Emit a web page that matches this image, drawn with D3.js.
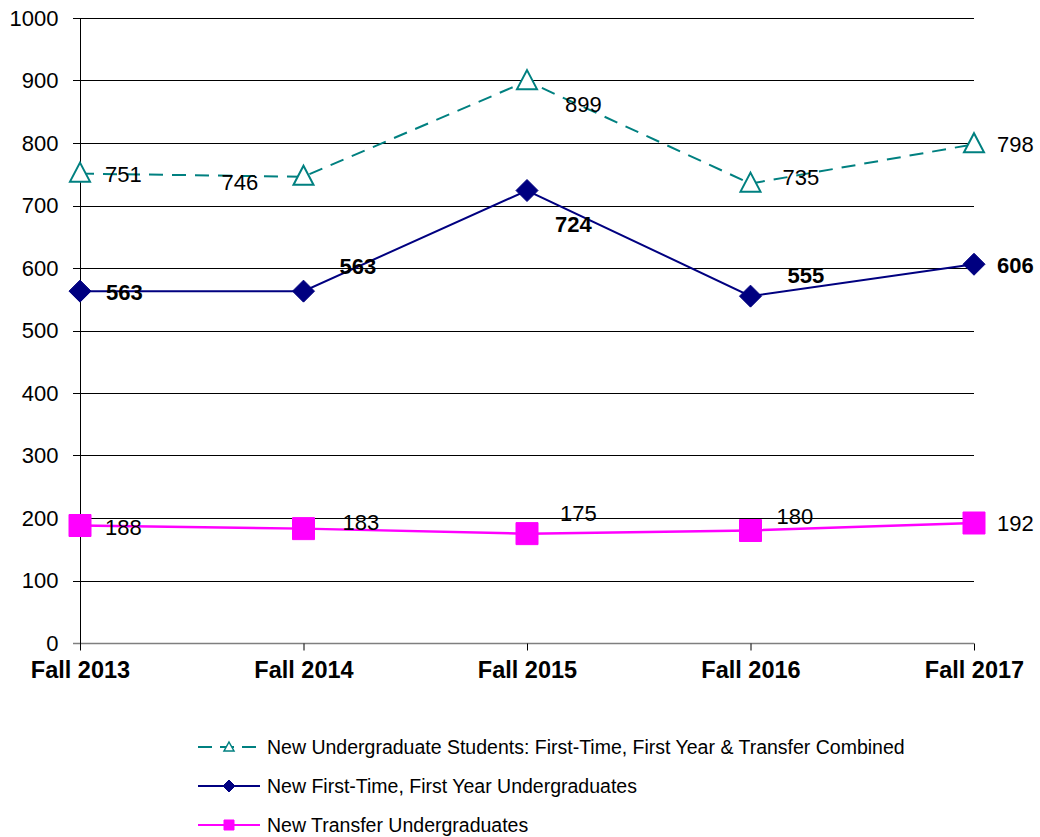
<!DOCTYPE html>
<html>
<head>
<meta charset="utf-8">
<script src="https://cdn.jsdelivr.net/npm/d3@7"></script>
<style>
  body { margin: 0; background: #fff; }
  svg { font-family: "Liberation Sans", Arial, sans-serif; }
</style>
</head>
<body>
<div id="chart"></div>
<script>
// chart data
const years = ["Fall 2013", "Fall 2014", "Fall 2015", "Fall 2016", "Fall 2017"]
const combined = [751, 746, 899, 735, 798]
const firstTime = [563, 563, 724, 555, 606]
const transfer = [188, 183, 175, 180, 192]
const yTicks = [0, 100, 200, 300, 400, 500, 600, 700, 800, 900, 1000]

// label offsets (dx, dy) relative to the point
const combinedLabelPos = [[25, 8], [-82, 13], [38, 31], [32, 1], [23, 8]]
const firstLabelPos = [[26, 9], [36, -17], [28, 41], [37, -13], [23, 9]]
const transferLabelPos = [[25, 9], [39, 1], [33, -13], [26, -7], [23, 8]]

const series = [
  {name: "New Undergraduate Students: First-Time, First Year & Transfer Combined",
   values: combined, color: "#008080", dash: "14,9", marker: "triangle", bold: false, labelPos: combinedLabelPos},
  {name: "New First-Time, First Year Undergraduates",
   values: firstTime, color: "#000080", dash: null, marker: "diamond", bold: true, labelPos: firstLabelPos},
  {name: "New Transfer Undergraduates",
   values: transfer, color: "#FF00FF", dash: null, marker: "square", bold: false, labelPos: transferLabelPos},
]

const W = 1040, H = 837
const margin = {top: 18, right: 66, bottom: 194, left: 80}

const svg = d3.select("#chart").append("svg")
  .attr("width", W)
  .attr("height", H)

const x = d3.scalePoint()
  .domain(years)
  .range([margin.left, W - margin.right])

const y = d3.scaleLinear()
  .domain([0, 1000])
  .range([H - margin.bottom, margin.top])

// gridlines
svg.append("g")
  .selectAll("line")
  .data(yTicks)
  .join("line")
    .attr("x1", margin.left - 7)
    .attr("x2", W - margin.right)
    .attr("y1", d => Math.round(y(d)) + 0.5)
    .attr("y2", d => Math.round(y(d)) + 0.5)
    .attr("stroke", d => d == 0 ? "#7f7f7f" : "#000")
    .attr("stroke-width", d => d == 0 ? 1.5 : 1)

// y axis
const yAxis = svg.append("g")
  .attr("transform", `translate(${margin.left + 0.5},0)`)
  .call(d3.axisLeft(y).tickValues(yTicks).tickFormat(d3.format("d")).tickSize(0).tickPadding(22))
yAxis.select(".domain").attr("stroke", "#000").attr("d", `M0,${margin.top}V${H - margin.bottom + 7}`)
yAxis.selectAll("text")
  .attr("font-size", 22)
  .attr("font-family", "Liberation Sans, Arial, sans-serif")
  .attr("fill", "#000")

// x axis
const xAxis = svg.append("g")
  .attr("transform", `translate(0,${Math.round(y(0)) + 0.5})`)
  .call(d3.axisBottom(x).tickSize(7).tickPadding(11).tickSizeOuter(0))
xAxis.select(".domain").remove()
xAxis.selectAll(".tick line").attr("stroke", "#000")
xAxis.selectAll("text")
  .attr("font-size", 23.5)
  .attr("font-weight", "bold")
  .attr("font-family", "Liberation Sans, Arial, sans-serif")
  .attr("fill", "#000")

function markerPath(type) {
  if (type == "triangle") return "M0,-11L10,8L-10,8Z"
  if (type == "diamond") return "M0,-11L11,0L0,11L-11,0Z"
  return "M-11,-11H11V11H-11Z"
}

const line = d3.line()
  .x((d, i) => x(years[i]))
  .y(d => y(d))

for (const s of series) {
  const g = svg.append("g")
  g.append("path")
    .datum(s.values)
    .attr("d", line)
    .attr("fill", "none")
    .attr("stroke", s.color)
    .attr("stroke-width", s.marker == "square" ? 2.5 : 2)
    .attr("stroke-dasharray", s.dash)

  g.selectAll(".mk")
    .data(s.values)
    .join("path")
      .attr("class", "mk")
      .attr("transform", (d, i) => `translate(${x(years[i])},${y(d)})`)
      .attr("d", markerPath(s.marker))
      .attr("fill", s.marker == "triangle" ? "#fff" : s.color)
      .attr("stroke", s.color)
      .attr("stroke-width", s.marker == "triangle" ? 2 : 1)

  g.selectAll(".lbl")
    .data(s.values)
    .join("text")
      .attr("class", "lbl")
      .attr("x", (d, i) => x(years[i]) + s.labelPos[i][0])
      .attr("y", (d, i) => y(d) + s.labelPos[i][1])
      .attr("font-size", 22)
      .attr("font-weight", s.bold ? "bold" : "normal")
      .attr("fill", "#000")
      .text(d => d)
}

// legend
const legend = svg.append("g")
  .attr("transform", "translate(198,747)")
series.forEach((s, i) => {
  const row = legend.append("g").attr("transform", `translate(0,${i * 39})`)
  row.append("line")
    .attr("x1", 0).attr("x2", 62)
    .attr("y1", 0).attr("y2", 0)
    .attr("stroke", s.color)
    .attr("stroke-width", 2)
    .attr("stroke-dasharray", s.dash ? "14,8" : null)
  const mk = s.marker == "triangle" ? "M0,-5L5,4L-5,4Z" : s.marker == "diamond" ? "M0,-6L6,0L0,6L-6,0Z" : "M-5,-5H5V5H-5Z"
  row.append("path")
    .attr("transform", "translate(31,0)")
    .attr("d", mk)
    .attr("fill", s.marker == "triangle" ? "#fff" : s.color)
    .attr("stroke", s.color)
    .attr("stroke-width", s.marker == "triangle" ? 1.5 : 1)
  row.append("text")
    .attr("x", 69)
    .attr("y", 7)
    .attr("font-size", 19.5)
    .attr("fill", "#000")
    .text(s.name)
})
</script>
</body>
</html>
